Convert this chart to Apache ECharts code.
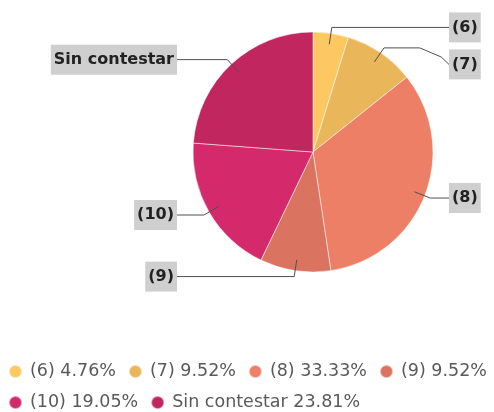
<!DOCTYPE html>
<html>
<head>
<meta charset="utf-8">
<script src="https://cdn.jsdelivr.net/npm/echarts@6/dist/echarts.min.js"></script>
<style>
  html, body { margin: 0; padding: 0; background: #ffffff; }
  #chart { width: 494px; height: 412px; }
</style>
</head>
<body>
<div id="chart"></div>
<script>
// ---- data ----
const categories = ['(6)', '(7)', '(8)', '(9)', '(10)', 'Sin contestar'];
const counts = [1, 2, 7, 2, 4, 5];
const colors = ['#FDC862', '#E9B65A', '#EC7F66', '#DA7461', '#D42A6C', '#C1265F'];

// ---- layout constants ----
const CX = 313, CY = 152, R = 120;
const LABEL_EDGE = 136;   // horizontal distance of label boxes from center
const ELBOW_OUT = 6;      // elbow distance outside the pie
const START_IN = 11;      // label line starts inside the slice
const MIN_GAP = 37;       // minimum vertical spacing between labels on one side

const total = counts.reduce((a, b) => a + b, 0);

// mid-angle of each slice (clockwise from 12 o'clock)
const midAngles = [];
{
  let acc = 0;
  counts.forEach(v => {
    midAngles.push((acc + v / 2) / total * Math.PI * 2);
    acc += v;
  });
}

// label vertical positions with simple overlap push-down per side
const naturalY = midAngles.map(a => CY - (R + ELBOW_OUT) * Math.cos(a));
const labelY = naturalY.slice();
['right', 'left'].forEach(side => {
  const idx = midAngles
    .map((a, i) => i)
    .filter(i => (Math.sin(midAngles[i]) >= 0) === (side === 'right'))
    .sort((a, b) => naturalY[a] - naturalY[b]);
  for (let k = 1; k < idx.length; k++) {
    const prev = labelY[idx[k - 1]];
    if (labelY[idx[k]] < prev + MIN_GAP) labelY[idx[k]] = prev + MIN_GAP;
  }
});
const shifted = labelY.map((y, i) => Math.abs(y - naturalY[i]) > 0.5);

const chart = echarts.init(document.getElementById('chart'), null, { renderer: 'canvas' });

const pieData = categories.map((c, i) => ({ name: c, value: counts[i] }));

chart.setOption({
  animation: false,
  backgroundColor: '#ffffff',
  color: colors,
  legend: {
    left: 8,
    right: 0,
    top: 362,
    padding: 0,
    icon: 'circle',
    itemWidth: 19,
    itemHeight: 13,
    itemGap: 12,
    selectedMode: false,
    textStyle: {
      fontFamily: 'DejaVu Sans',
      fontSize: 17.5,
      lineHeight: 19,
      color: '#5a5a5a'
    },
    formatter: function (name) {
      const i = categories.indexOf(name);
      return name + ' ' + (counts[i] / total * 100).toFixed(2) + '%';
    },
    data: categories
  },
  series: [
    {
      // coloured slices
      type: 'pie',
      z: 2,
      center: [CX, CY],
      radius: [0, R],
      startAngle: 90,
      clockwise: true,
      silent: true,
      emphasis: { disabled: true },
      itemStyle: {
        borderColor: 'rgba(255,255,255,0.5)',
        borderWidth: 1
      },
      label: { show: false },
      labelLine: { show: false },
      data: pieData
    },
    {
      // transparent overlay carrying the labels & leader lines (drawn above slices)
      type: 'pie',
      z: 3,
      center: [CX, CY],
      radius: [0, R],
      startAngle: 90,
      clockwise: true,
      silent: true,
      avoidLabelOverlap: false,
      emphasis: { disabled: true },
      itemStyle: { color: 'rgba(0,0,0,0)', borderWidth: 0 },
      label: {
        show: true,
        position: 'outside',
        formatter: '{b}',
        fontFamily: 'DejaVu Sans',
        fontWeight: 'bold',
        fontSize: 16,
        lineHeight: 18,
        color: '#222222',
        backgroundColor: '#cfcfcf',
        padding: [6, 3]
      },
      labelLine: {
        show: true,
        length: 10,
        length2: 10,
        lineStyle: { color: '#505050', width: 1 }
      },
      labelLayout: function (p) {
        const i = p.dataIndex;
        const a = midAngles[i];
        const dx = Math.sin(a), dy = -Math.cos(a);
        const right = dx >= 0;
        const start = [CX + (R - START_IN) * dx, CY + (R - START_IN) * dy];
        const elbow = [CX + (R + ELBOW_OUT) * dx, CY + (R + ELBOW_OUT) * dy];
        const edgeX = right ? CX + LABEL_EDGE : CX - LABEL_EDGE;
        const y = labelY[i];
        let pts;
        if (!shifted[i]) {
          pts = [start, elbow, [edgeX, y]];
        } else {
          pts = [start, elbow,
                 [elbow[0] + (edgeX - elbow[0]) * 0.55, elbow[1]],
                 [edgeX - (edgeX - elbow[0]) * 0.12, elbow[1] + (y - elbow[1]) * 0.55],
                 [edgeX, y]];
        }
        return {
          x: edgeX,
          y: y,
          align: right ? 'left' : 'right',
          verticalAlign: 'middle',
          labelLinePoints: pts
        };
      },
      data: pieData
    }
  ]
});
</script>
</body>
</html>
